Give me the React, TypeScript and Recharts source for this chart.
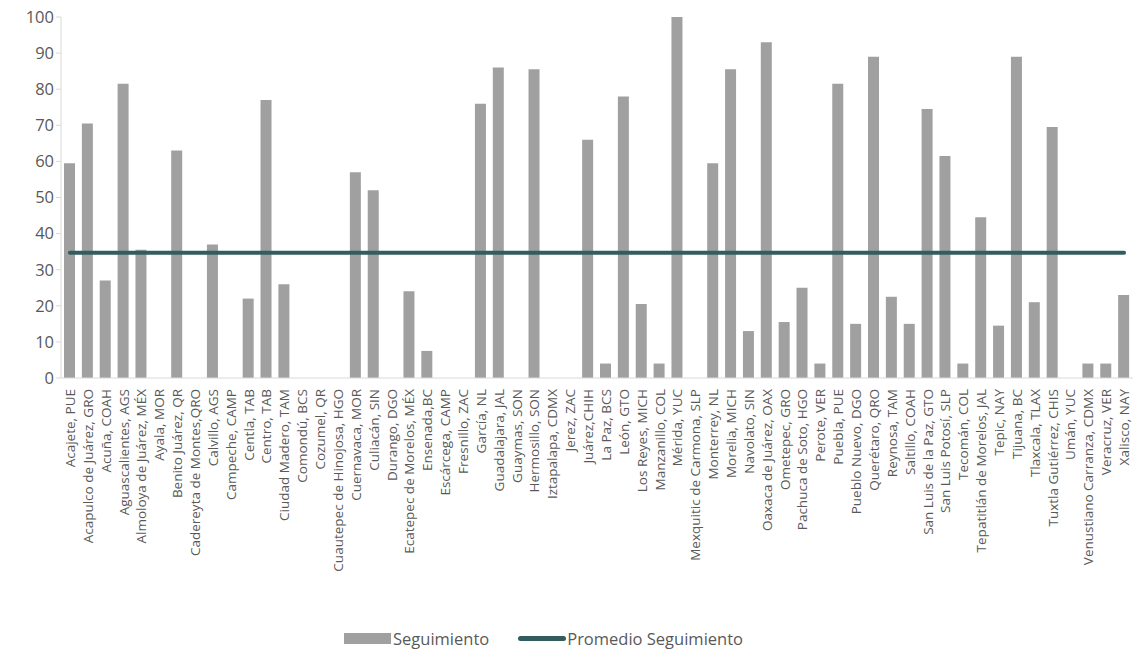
import { Bar, Line, XAxis, YAxis, Legend, ComposedChart } from "recharts";

const categories: string[] = [
  "Acajete, PUE", "Acapulco de Juárez, GRO", "Acuña, COAH", "Aguascalientes, AGS",
  "Almoloya de Juárez, MÉX", "Ayala, MOR", "Benito Juárez, QR", "Cadereyta de Montes,QRO",
  "Calvillo, AGS", "Campeche, CAMP", "Centla, TAB", "Centro, TAB", "Ciudad Madero, TAM",
  "Comondú, BCS", "Cozumel, QR", "Cuautepec de Hinojosa, HGO", "Cuernavaca, MOR",
  "Culiacán, SIN", "Durango, DGO", "Ecatepec de Morelos, MÉX", "Ensenada,BC",
  "Escárcega, CAMP", "Fresnillo, ZAC", "García, NL", "Guadalajara, JAL", "Guaymas, SON",
  "Hermosillo, SON", "Iztapalapa, CDMX", "Jerez, ZAC", "Juárez,CHIH", "La Paz, BCS",
  "León, GTO", "Los Reyes, MICH", "Manzanillo, COL", "Mérida, YUC",
  "Mexquitic de Carmona, SLP", "Monterrey, NL", "Morelia, MICH", "Navolato, SIN",
  "Oaxaca de Juárez, OAX", "Ometepec, GRO", "Pachuca de Soto, HGO", "Perote, VER",
  "Puebla, PUE", "Pueblo Nuevo, DGO", "Querétaro, QRO", "Reynosa, TAM", "Saltillo, COAH",
  "San Luis de la Paz, GTO", "San Luis Potosí, SLP", "Tecomán, COL",
  "Tepatitlán de Morelos, JAL", "Tepic, NAY", "Tijuana, BC", "Tlaxcala, TLAX",
  "Tuxtla Gutiérrez, CHIS", "Umán, YUC", "Venustiano Carranza, CDMX", "Veracruz, VER",
  "Xalisco, NAY",
];

const seguimiento: number[] = [
  59.5, 70.5, 27, 81.5, 35.5, 0, 63, 0, 37, 0,
  22, 77, 26, 0, 0, 0, 57, 52, 0, 24,
  7.5, 0, 0, 76, 86, 0, 85.5, 0, 0, 66,
  4, 78, 20.5, 4, 100, 0, 59.5, 85.5, 13, 93,
  15.5, 25, 4, 81.5, 15, 89, 22.5, 15, 74.5, 61.5,
  4, 44.5, 14.5, 89, 21, 69.5, 0, 4, 4, 23,
];

const promedio = 34.7;

const yTicks = [0, 10, 20, 30, 40, 50, 60, 70, 80, 90, 100];

const data = categories.map((name, i) => ({
  name,
  seguimiento: seguimiento[i],
  promedio,
}));

const FONT = "'Open Sans', 'Noto Sans', sans-serif";

function XTick({ x, y, payload }: any) {
  return (
    <text
      x={x}
      y={y + 3}
      transform={`rotate(-90, ${x}, ${y + 3})`}
      textAnchor="end"
      dominantBaseline="central"
      fontSize={13.5}
      fill="#595959"
      fontFamily={FONT}
    >
      {payload.value}
    </text>
  );
}

function LegendBox() {
  return (
    <div
      style={{
        display: "flex",
        justifyContent: "flex-start",
        alignItems: "center",
        fontFamily: FONT,
        fontSize: 16.5,
        color: "#595959",
        paddingLeft: 333,
        paddingTop: 24,
      }}
    >
      <span style={{ display: "inline-block", width: 47, height: 11, background: "#a0a0a0", marginRight: 2 }} />
      <span style={{ marginRight: 29 }}>Seguimiento</span>
      <span style={{ display: "inline-block", width: 48, height: 5, borderRadius: 3, background: "#335c5f", marginRight: 1 }} />
      <span>Promedio Seguimiento</span>
    </div>
  );
}

export default function App() {
  return (
    <div style={{ position: "absolute", left: 0, top: 0, background: "#fff" }}>
      <ComposedChart
        width={1143}
        height={649}
        data={data}
        margin={{ top: 17, right: 10, bottom: 0, left: 11 }}
      >
        <XAxis
          dataKey="name"
          interval={0}
          tick={<XTick />}
          height={225}
          axisLine={{ stroke: "#d9d9d9" }}
          tickLine={false}
        />
        <YAxis
          domain={[0, 100]}
          ticks={yTicks}
          width={50}
          axisLine={{ stroke: "#d9d9d9" }}
          tickLine={{ stroke: "#d9d9d9" }}
          tickSize={5}
          tick={{ fontSize: 16.5, fill: "#595959", fontFamily: FONT }}
        />
        <Bar dataKey="seguimiento" name="Seguimiento" fill="#a0a0a0" barSize={11} isAnimationActive={false} />
        <Line
          dataKey="promedio"
          name="Promedio Seguimiento"
          stroke="#335c5f"
          strokeWidth={4}
          strokeLinecap="round"
          dot={false}
          activeDot={false}
          isAnimationActive={false}
        />
        <Legend verticalAlign="bottom" height={46} content={<LegendBox />} />
      </ComposedChart>
    </div>
  );
}
